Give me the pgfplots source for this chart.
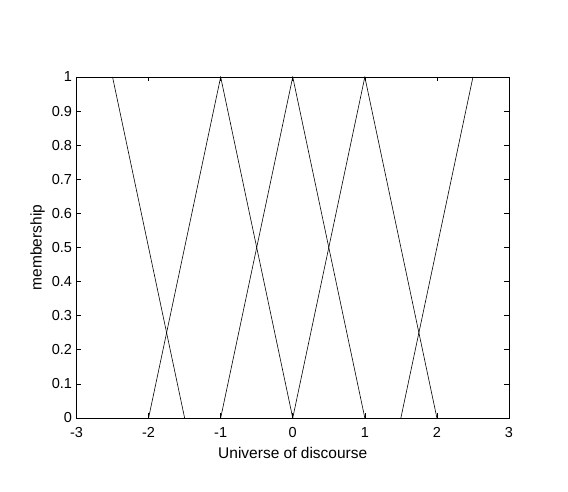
\documentclass[border=0pt]{standalone}
\usepackage{fontspec}
\setmainfont{Liberation Sans}
\usepackage{pgfplots}
\pgfplotsset{compat=1.18}
\begin{document}
\begin{tikzpicture}[x=1pt,y=1pt]
\path (0,0) rectangle (568,492);
\begin{axis}[
  at={(76.5pt,74pt)}, anchor=south west,
  scale only axis, width=432.5pt, height=341pt,
  xmin=-3, xmax=3, ymin=0, ymax=1,
  xtick={-3,-2,...,3},
  ytick={0,0.1,...,1},
  yticklabels={0,0.1,0.2,0.3,0.4,0.5,0.6,0.7,0.8,0.9,1},
  xticklabels={-3,-2,-1,0,1,2,3},
  tick align=inside,
  major tick length=4.5pt,
  tick style={black, line width=0.6pt},
  axis line style={black, line width=0.6pt},
  every tick label/.append style={font=\fontsize{14.5}{16}\selectfont},
  label style={font=\fontsize{15.5}{17}\selectfont},
  xlabel={Universe of discourse},
  ylabel={membership},
  xlabel style={yshift=-3pt},
  ylabel style={yshift=0pt},
  /pgf/number format/assume math mode=true,
  xticklabel style={yshift=-6pt},
  yticklabel style={xshift=-1pt},
]
\addplot[black, line width=0.6pt] coordinates {(-2.5,1) (-1.5,0)};
\addplot[black, line width=0.6pt] coordinates {(-2,0) (-1,1) (0,0)};
\addplot[black, line width=0.6pt] coordinates {(-1,0) (0,1) (1,0)};
\addplot[black, line width=0.6pt] coordinates {(0,0) (1,1) (2,0)};
\addplot[black, line width=0.6pt] coordinates {(1.5,0) (2.5,1)};
\end{axis}
\end{tikzpicture}
\end{document}
